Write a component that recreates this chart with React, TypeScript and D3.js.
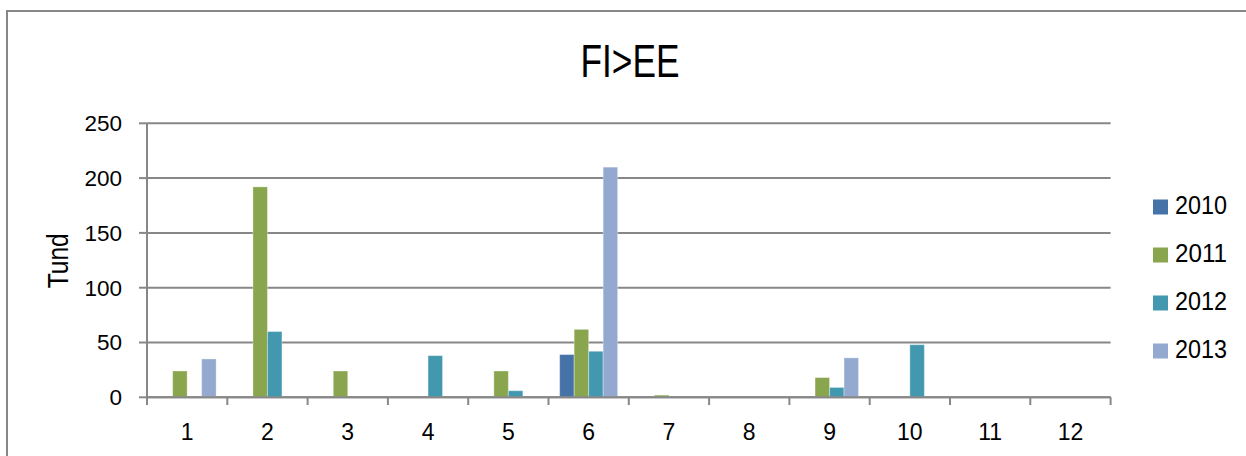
import React from "react";
import * as d3 from "d3";

// Monthly volumes (tonnes), FI > EE
const months = ["1", "2", "3", "4", "5", "6", "7", "8", "9", "10", "11", "12"];
const years = ["2010", "2011", "2012", "2013"];
const v2010 = [0, 0, 0, 0, 0, 39, 0, 0, 0, 0, 0, 0];
const v2011 = [24, 192, 24, 0, 24, 62, 2, 0, 18, 0, 0, 0];
const v2012 = [0, 60, 0, 38, 6, 42, 0, 0, 9, 48, 0, 0];
const v2013 = [35, 0, 0, 0, 0, 210, 0, 0, 36, 0, 0, 0];
const yTicks = [0, 50, 100, 150, 200, 250];
const colors = ["#4572A7", "#89A54E", "#4198AF", "#93A9CF"];

const seriesValues = [v2010, v2011, v2012, v2013];

const W = 1246;
const H = 456;
const FONT = "'Liberation Sans', Arial, sans-serif";
const GRID = "#878787";

export default function App() {
  const x = d3.scaleBand<string>().domain(months).range([147, 1110.6]).paddingInner(0).paddingOuter(0);
  const xi = d3.scaleBand<string>().domain(years).range([0, x.bandwidth()]).paddingInner(0).paddingOuter(0.77);
  const y = d3.scaleLinear().domain([0, 250]).range([397.3, 123.3]);

  const x0 = x.range()[0];
  const x1 = x.range()[1];
  const boundaries = d3.range(months.length + 1).map((i) => x0 + i * x.step());

  return (
    <svg width={W} height={H} style={{ position: "absolute", left: 0, top: 0 }} fontFamily={FONT}>
      <rect x={0} y={0} width={W} height={H} fill="#fff" />
      {/* chart frame */}
      <rect x={7} y={11} width={W + 20} height={H + 20} fill="none" stroke={GRID} strokeWidth={2} />

      {/* title */}
      <text x={630} y={76.7} textAnchor="middle" fontSize={46} textLength={99} lengthAdjust="spacingAndGlyphs" fill="#000">
        FI&gt;EE
      </text>

      {/* horizontal gridlines */}
      {yTicks.map((t) => (
        <line key={"g" + t} x1={x0} x2={x1} y1={y(t)} y2={y(t)} stroke={GRID} strokeWidth={2} />
      ))}

      {/* bars */}
      {years.map((yr, si) => (
        <g key={yr}>
          {months.map((m, mi) => {
            const v = seriesValues[si][mi];
            if (!v) return null;
            return (
              <rect
                key={m}
                x={(x(m) as number) + (xi(yr) as number)}
                y={y(v)}
                width={xi.bandwidth()}
                height={y(0) - y(v)}
                fill={colors[si]}
                stroke="rgba(255,255,255,0.35)"
                strokeWidth={1}
              />
            );
          })}
        </g>
      ))}

      {/* y axis */}
      <line x1={x0} x2={x0} y1={y(250)} y2={y(0)} stroke={GRID} strokeWidth={2} />
      {yTicks.map((t) => (
        <g key={"yt" + t}>
          <line x1={139} x2={x0} y1={y(t)} y2={y(t)} stroke={GRID} strokeWidth={2} />
          <text x={122} y={y(t) + 7.8} textAnchor="end" fontSize={22.5} fill="#000">
            {t}
          </text>
        </g>
      ))}

      {/* x axis */}
      <line x1={x0} x2={x1} y1={y(0)} y2={y(0)} stroke={GRID} strokeWidth={2} />
      {boundaries.map((bx, i) => (
        <line key={"xt" + i} x1={bx} x2={bx} y1={y(0)} y2={405} stroke={GRID} strokeWidth={2} />
      ))}
      {months.map((m) => (
        <text key={"xl" + m} x={(x(m) as number) + x.bandwidth() / 2} y={439.5} textAnchor="middle" fontSize={23} fill="#000">
          {m}
        </text>
      ))}

      {/* y axis title */}
      <text
        transform="translate(68,260.8) rotate(-90)"
        textAnchor="middle"
        fontSize={29}
        textLength={55}
        lengthAdjust="spacingAndGlyphs"
        fill="#000"
      >
        Tund
      </text>

      {/* legend */}
      {years.map((yr, i) => {
        const cy = 207 + i * 48;
        return (
          <g key={"lg" + yr}>
            <rect x={1153} y={cy - 7.5} width={15} height={15} fill={colors[i]} />
            <text x={1175} y={cy + 7.3} fontSize={25} textLength={52} lengthAdjust="spacingAndGlyphs" fill="#000">
              {yr}
            </text>
          </g>
        );
      })}
    </svg>
  );
}
